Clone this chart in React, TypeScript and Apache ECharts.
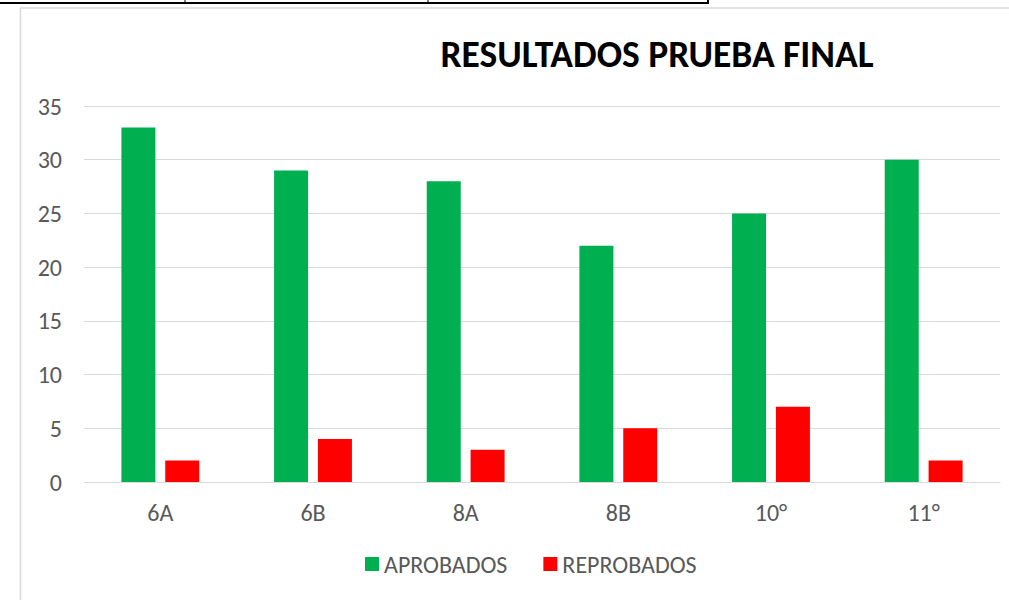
import React, { useEffect, useRef } from "react";
import * as echarts from "echarts";

const categories = ["6A", "6B", "8A", "8B", "10°", "11°"];
const aprobados = [33, 29, 28, 22, 25, 30];
const reprobados = [2, 4, 3, 5, 7, 2];
const yTicks = [0, 5, 10, 15, 20, 25, 30, 35];

export default function App() {
  const ref = useRef<HTMLDivElement>(null);
  useEffect(() => {
    if (!ref.current) return;
    const chart = echarts.init(ref.current, null, { renderer: "svg" });
    const font = "Carlito, Lato, 'Open Sans', sans-serif";
    chart.setOption({
      animation: false,
      backgroundColor: "#ffffff",
      textStyle: { fontFamily: font },
      title: {
        text: "RESULTADOS PRUEBA FINAL",
        left: 652,
        top: 30,
        textAlign: "center",
        textStyle: { fontSize: 37.5, fontWeight: "bold", color: "#000000", fontFamily: font },
      },
      graphic: [
        { type: "line", shape: { x1: 0, y1: 3, x2: 709, y2: 3 }, style: { stroke: "#000", lineWidth: 2 } },
        { type: "line", shape: { x1: 185, y1: 0, x2: 185, y2: 3 }, style: { stroke: "#000", lineWidth: 1 } },
        { type: "line", shape: { x1: 428, y1: 0, x2: 428, y2: 3 }, style: { stroke: "#000", lineWidth: 1 } },
        { type: "line", shape: { x1: 708, y1: 0, x2: 708, y2: 4 }, style: { stroke: "#000", lineWidth: 2 } },
        { type: "rect", shape: { x: 20.5, y: 8, width: 1100, height: 700 }, style: { fill: "none", stroke: "#d9d9d9", lineWidth: 1.5 } },
      ],
      legend: {
        top: 547,
        left: 360,
        itemWidth: 14,
        itemHeight: 14,
        itemGap: 36,
        icon: "rect",
        textStyle: { fontSize: 24, color: "#595959", fontFamily: font },
        data: ["APROBADOS", "REPROBADOS"],
      },
      grid: { left: 84, right: 9, top: 106, bottom: 118, containLabel: false },
      xAxis: {
        type: "category",
        data: categories,
        axisTick: { show: false },
        axisLine: { lineStyle: { color: "#d9d9d9", width: 1 } },
        axisLabel: { fontSize: 24, color: "#595959", margin: 18, fontFamily: font },
      },
      yAxis: {
        type: "value",
        min: yTicks[0],
        max: yTicks[yTicks.length - 1],
        interval: 5,
        axisLine: { show: false },
        axisTick: { show: false },
        splitLine: { lineStyle: { color: "#d9d9d9", width: 1 } },
        axisLabel: { fontSize: 24, color: "#595959", margin: 22, fontFamily: font },
      },
      series: [
        { name: "APROBADOS", type: "bar", data: aprobados, barWidth: 34, barGap: "29%", itemStyle: { color: "#00b050" } },
        { name: "REPROBADOS", type: "bar", data: reprobados, barWidth: 34, itemStyle: { color: "#ff0000" } },
      ],
    });
    return () => chart.dispose();
  }, []);
  return <div ref={ref} style={{ position: "fixed", left: 0, top: 0, width: 1009, height: 600 }} />;
}
